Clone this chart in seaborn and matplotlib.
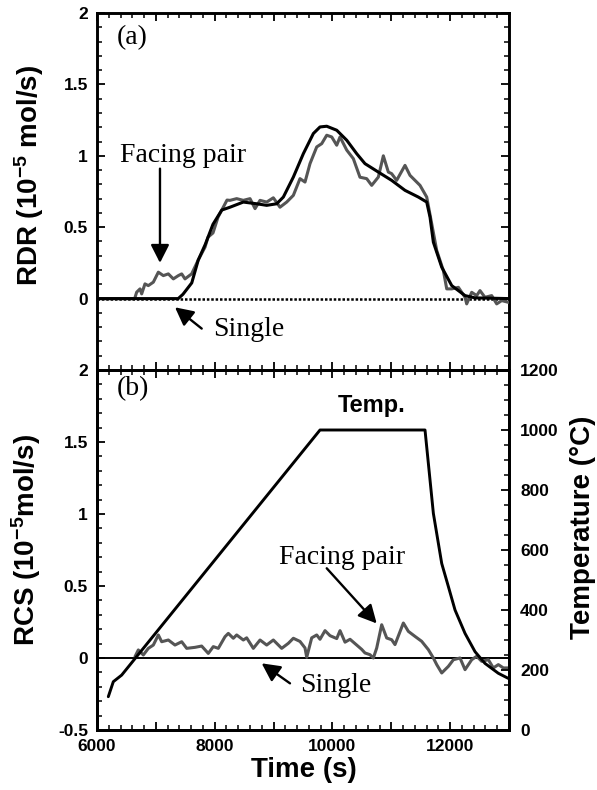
import matplotlib
matplotlib.use("Agg")
import matplotlib.pyplot as plt
from matplotlib.ticker import MultipleLocator, FuncFormatter
import seaborn as sns

# ---------------- data ----------------
# panel (a): RDR
a_fit_x = [6000, 7380, 7460, 7610, 7720, 7840, 7970, 8120, 8260, 8486, 8713, 8883, 9053, 9166,
           9336, 9506, 9676, 9789, 9903, 10073, 10243, 10412, 10553, 10780, 11006, 11233,
           11460, 11602, 11658, 11715, 11857, 12027, 12253, 12423, 13000]
a_fit_y = [0, 0, 0.03, 0.11, 0.27, 0.38, 0.52, 0.62, 0.64, 0.676, 0.664, 0.653, 0.664, 0.711,
           0.851, 1.015, 1.156, 1.202, 1.207, 1.179, 1.109, 1.015, 0.945, 0.886, 0.828, 0.758,
           0.711, 0.676, 0.571, 0.395, 0.22, 0.091, 0.021, 0.005, 0.0]

a_pair_x = [6000, 6640, 6674, 6731, 6759, 6815, 6872, 6957, 7042, 7127, 7212, 7297, 7382, 7439,
            7495, 7608, 7716, 7835, 7886, 7971, 8056, 8209, 8260, 8373, 8486, 8600, 8685, 8770,
            8883, 8996, 9109, 9223, 9336, 9449, 9534, 9619, 9733, 9818, 9903, 9988, 10073,
            10129, 10243, 10355, 10468, 10582, 10667, 10780, 10865, 10950, 11006, 11091, 11233,
            11318, 11488, 11602, 11687, 11772, 11885, 11942, 12027, 12140, 12253, 12281, 12366,
            12451, 12507, 12592, 12706, 12791, 12876, 12989]
a_pair_y = [0, 0, 0.045, 0.068, 0.033, 0.103, 0.091, 0.115, 0.185, 0.161, 0.173, 0.138, 0.161,
            0.173, 0.138, 0.173, 0.267, 0.36, 0.43, 0.46, 0.57, 0.69, 0.688, 0.70, 0.688, 0.70,
            0.63, 0.688, 0.676, 0.706, 0.64, 0.676, 0.723, 0.84, 0.816, 0.945, 1.062, 1.085,
            1.144, 1.132, 1.074, 1.132, 1.04, 0.98, 0.85, 0.84, 0.793, 0.851, 1.0, 0.886,
            0.875, 0.828, 0.933, 0.863, 0.793, 0.711, 0.524, 0.337, 0.196, 0.068, 0.068, 0.079,
            0.009, -0.037, 0.044, 0.021, 0.056, 0.009, 0.021, -0.037, -0.014, -0.026]

a_single_x = [6000, 13000]
a_single_y = [0, 0]

# panel (b): RCS
b_pair_x = [6646, 6702, 6787, 6872, 6957, 7042, 7099, 7212, 7325, 7439, 7524, 7665, 7778, 7891,
            7976, 8061, 8175, 8231, 8316, 8373, 8486, 8543, 8656, 8770, 8883, 8996, 9138, 9251,
            9336, 9449, 9534, 9563, 9648, 9733, 9789, 9874, 9959, 10073, 10129, 10214, 10299,
            10412, 10497, 10553, 10638, 10695, 10752, 10837, 10922, 11006, 11063, 11205, 11290,
            11403, 11516, 11630, 11715, 11772, 11857, 11970, 12055, 12168, 12253, 12366, 12451,
            12536, 12649, 12734, 12819, 12904, 12989]
b_pair_y = [0.01, 0.056, 0.021, 0.067, 0.09, 0.16, 0.113, 0.125, 0.09, 0.113, 0.067, 0.074,
            0.083, 0.032, 0.079, 0.067, 0.148, 0.171, 0.137, 0.16, 0.125, 0.14, 0.067, 0.125,
            0.09, 0.125, 0.067, 0.102, 0.137, 0.115, 0.07, 0.005, 0.14, 0.16, 0.13, 0.19,
            0.155, 0.135, 0.19, 0.11, 0.13, 0.09, 0.06, 0.035, 0.023, 0.0, 0.069, 0.231, 0.139,
            0.127, 0.093, 0.243, 0.185, 0.15, 0.116, 0.058, 0.0, -0.046, -0.104, -0.058,
            -0.012, 0.0, -0.081, -0.012, 0.012, -0.023, -0.012, -0.069, -0.046, -0.069, -0.069]

b_single_x = [6000, 13000]
b_single_y = [0, 0]

temp_x = [6192, 6277, 6419, 9789, 9850, 11573, 11715, 11857, 11970, 12083, 12253, 12423, 12592,
          12819, 12989]
temp_y = [111, 161, 183, 1000, 1000, 1000, 722, 555, 478, 400, 322, 261, 222, 189, 172]

# ---------------- style ----------------
sns.set_style("ticks")
plt.rcParams["font.family"] = ["Liberation Sans", "DejaVu Sans"]
plt.rcParams["axes.unicode_minus"] = False
plt.rcParams["axes.edgecolor"] = "black"
plt.rcParams["xtick.color"] = "black"
plt.rcParams["ytick.color"] = "black"
plt.rcParams["text.color"] = "black"
plt.rcParams["axes.labelcolor"] = "black"
plt.rcParams["mathtext.fontset"] = "custom"
plt.rcParams["mathtext.rm"] = "Liberation Sans:bold"
plt.rcParams["mathtext.bf"] = "Liberation Sans:bold"
plt.rcParams["mathtext.it"] = "Liberation Sans:bold"
plt.rcParams["mathtext.default"] = "bf"

fig = plt.figure(figsize=(5.97, 7.90), dpi=100)
ax1 = fig.add_axes([0.16248, 0.53165, 0.69012, 0.45190])
ax2 = fig.add_axes([0.16248, 0.07595, 0.69012, 0.45570])
axT = ax2.twinx()

GREY = "#555555"

# panel (a)
sns.lineplot(x=a_single_x, y=a_single_y, ax=ax1, color="black", linewidth=1.8,
             linestyle=(0, (1.0, 0.75)), estimator=None, sort=False, zorder=2)
sns.lineplot(x=a_pair_x, y=a_pair_y, ax=ax1, color=GREY, linewidth=2.2,
             estimator=None, sort=False, zorder=3)
sns.lineplot(x=a_fit_x, y=a_fit_y, ax=ax1, color="black", linewidth=2.2,
             estimator=None, sort=False, zorder=4)

# panel (b)
sns.lineplot(x=b_single_x, y=b_single_y, ax=ax2, color="black", linewidth=1.4,
             estimator=None, sort=False, zorder=2)
sns.lineplot(x=b_pair_x, y=b_pair_y, ax=ax2, color=GREY, linewidth=2.2,
             estimator=None, sort=False, zorder=3)
sns.lineplot(x=temp_x, y=temp_y, ax=axT, color="black", linewidth=2.1,
             estimator=None, sort=False)

# ---------------- axes ----------------
def fmt_even(v, pos):
    iv = int(round(v))
    return str(iv) if iv % 2000 == 0 else ""

for ax in (ax1, ax2):
    ax.set_xlim(6000, 13000)
    ax.set_ylim(-0.5, 2.0)
    ax.xaxis.set_major_locator(MultipleLocator(1000))
    ax.xaxis.set_minor_locator(MultipleLocator(200))
    ax.yaxis.set_major_locator(MultipleLocator(0.5))
    ax.yaxis.set_minor_locator(MultipleLocator(0.1))
    for s in ax.spines.values():
        s.set_linewidth(2.1)
        s.set_visible(True)
        s.set_color("black")
    ax.set_xlabel("")
    ax.set_ylabel("")

for s in axT.spines.values():
    s.set_linewidth(2.1)
    s.set_color("black")

ax1.tick_params(axis="both", which="major", direction="in", length=6, width=1.3,
                top=True, right=True, bottom=True, left=True, labelbottom=False,
                labelsize=12.5, pad=6.5)
ax1.tick_params(axis="both", which="minor", direction="in", length=3.5, width=1.1,
                top=True, right=True, bottom=True, left=True)
ax1.yaxis.set_major_formatter(FuncFormatter(lambda v, p: "" if v < -0.25 else f"{v:g}"))

ax2.tick_params(axis="both", which="major", direction="in", length=6, width=1.3,
                top=True, right=False, bottom=True, left=True, labelsize=12.5, pad=6.5)
ax2.tick_params(axis="both", which="minor", direction="in", length=3.5, width=1.1,
                top=True, right=False, bottom=True, left=True)
ax2.yaxis.set_major_formatter(FuncFormatter(lambda v, p: f"{v:g}"))
ax2.xaxis.set_major_formatter(FuncFormatter(fmt_even))

axT.set_ylim(0, 1200)
axT.yaxis.set_major_locator(MultipleLocator(200))
axT.yaxis.set_minor_locator(MultipleLocator(50))
axT.set_ylabel("")
axT.tick_params(axis="y", which="major", direction="in", length=6, width=1.3,
                labelsize=12.5, pad=8)
axT.tick_params(axis="y", which="minor", direction="in", length=3.5, width=1.1)

for ax in (ax1, ax2, axT):
    for lab in ax.get_xticklabels() + ax.get_yticklabels():
        lab.set_fontweight("bold")

# ---------------- labels ----------------
fig.text(0.0486, 0.7785, "RDR (10$^{-5}$ mol/s)", rotation=90, ha="center", va="center",
         fontsize=20, fontweight="bold")
fig.text(0.0430, 0.3165, "RCS (10$^{-5}$mol/s)", rotation=90, ha="center", va="center",
         fontsize=20, fontweight="bold")
fig.text(0.9766, 0.333, "Temperature (°C)", rotation=90, ha="center", va="center",
         fontsize=20, fontweight="bold")
fig.text(0.509, 0.025, "Time (s)", ha="center", va="center", fontsize=20, fontweight="bold")

serif = dict(family=["Liberation Serif", "DejaVu Serif"], fontsize=20, fontweight="normal")
arrow = dict(arrowstyle="-|>,head_length=0.55,head_width=0.28", color="black", lw=1.7,
             mutation_scale=20, shrinkA=0, shrinkB=0)

ax1.text(6330, 1.83, "(a)", ha="left", va="center", **serif)
ax2.text(6330, 1.87, "(b)", ha="left", va="center", **serif)

ax1.text(7461, 1.0, "Facing pair", ha="center", va="center", **serif)
ax1.annotate("", xy=(7070, 0.25), xytext=(7070, 0.91), arrowprops=arrow)
ax1.text(8583, -0.218, "Single", ha="center", va="center", **serif)
ax1.annotate("", xy=(7325, -0.061), xytext=(7779, -0.21), arrowprops=arrow)

ax2.text(10163, 0.70, "Facing pair", ha="center", va="center", **serif)
ax2.annotate("", xy=(10752, 0.24), xytext=(9903, 0.623), arrowprops=arrow)
ax2.text(10060, -0.19, "Single", ha="center", va="center", **serif)
ax2.annotate("", xy=(8798, -0.037), xytext=(9279, -0.176), arrowprops=arrow)
ax2.text(10673, 1.75, "Temp.", ha="center", va="center", fontsize=17, fontweight="bold")

fig.savefig("out.png", dpi=100)
